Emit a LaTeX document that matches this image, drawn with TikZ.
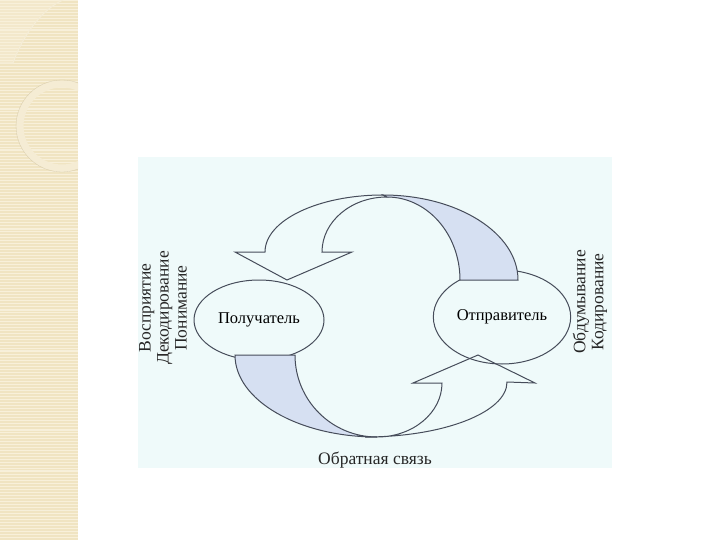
\documentclass[tikz,border=0pt]{standalone}
\usepackage{fontspec}
\setmainfont{Liberation Serif}
\usetikzlibrary{shapes.geometric}
\definecolor{panel}{RGB}{239,250,250}
\definecolor{band}{RGB}{214,224,242}
\definecolor{edge}{RGB}{70,76,90}
\definecolor{strip}{RGB}{240,228,194}
\definecolor{stripline}{RGB}{248,240,218}

\begin{document}
\begin{tikzpicture}[x=1pt, y=-1pt,
    outline/.style={draw=edge, line width=1pt},
    ribbon/.style={outline, fill=band},
    party/.style={ellipse, outline, minimum width=130pt, minimum height=80pt,
        font=\fontsize{16.5}{19}\selectfont},
    caption/.style={text=black!85, font=\fontsize{17.5}{18}\selectfont, align=center}]
			%%%%% START %%%%%
			
			\useasboundingbox (0,0) rectangle (720,540);
			\fill[white] (0,0) rectangle (720,540);
			
			% left strip
			\fill[strip] (0,0) rectangle (78,540);
			\foreach \y in {0,3,...,540}
				\draw[stripline, line width=0.6pt] (0,\y) -- (78,\y);
			\foreach \y in {30,70,...,540}
				\draw[white!40!strip, line width=1pt] (0,\y) -- (78,\y);
			\fill[stripline, opacity=0.4] (0,0) -- (0,63) -- (13,63) .. controls (25,30) and (45,8) .. (63,0) -- cycle;
			\draw[white!35!strip, line width=1pt] (0,63) -- (13,63) .. controls (25,30) and (45,8) .. (63,0);
			\begin{scope}
				\clip (0,0) rectangle (78,540);
				\draw[white!30!strip, line width=7pt] (62,126) circle (42);
				\draw[strip!90!black, line width=0.3pt] (62,126) circle (46);
			\end{scope}
			
			% panel
			\fill[panel] (138,157) rectangle (612,468);
			
			\node[party] (recv) at (259,320) {Получатель};
			\node[party, minimum width=128pt, minimum height=94pt] (send) at (502,317) {Отправитель};
			
			% upper arrow
			\draw[outline] (265,252) .. controls (265,220.5) and (317.8,195) .. (383,195) -- (387,197)
				.. controls (351.1,197) and (322,221.6) .. (322,252) -- (352,252) -- (287,280) -- (235,252) -- cycle;
			\draw[ribbon] (383,195) .. controls (457.6,195) and (518,233.1) .. (518,280) -- (460,280)
				.. controls (460,234.2) and (427.3,197) .. (387,197) -- cycle;
			
			% lower arrow
			\draw[ribbon] (235,355) .. controls (235,400.3) and (298.6,437) .. (377,437)
				.. controls (331.7,437) and (295,400.3) .. (295,355) -- cycle;
			\draw[outline] (365,437) .. controls (443.4,437) and (507,412.4) .. (507,382) -- (535,383)
				-- (478,355) -- (413,383) -- (442,383) .. controls (442,412.8) and (412.9,437) .. (377,437) -- cycle;
			
			\node[caption, rotate=90] (percept) at (163,308) {Восприятие\\Декодирование\\Понимание};
			\node[caption, rotate=90] (thought) at (590,302) {Обдумывание\\Кодирование};
			\node[caption] (feedback) at (375,460) {Обратная связь};
			
			%%%%% END %%%%%
\end{tikzpicture}
\end{document}
